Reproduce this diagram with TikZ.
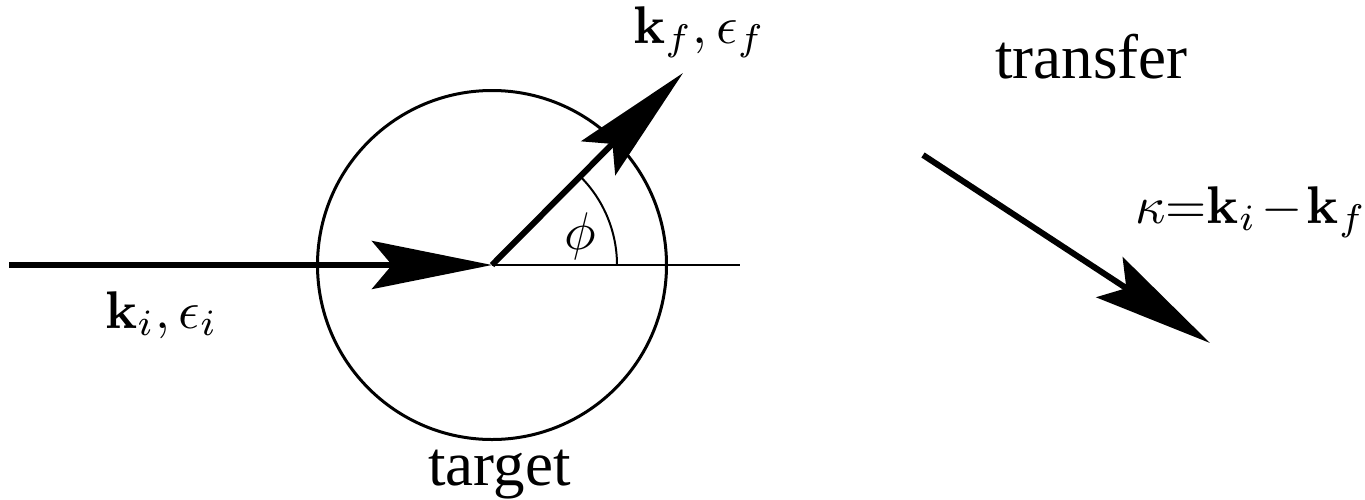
\documentclass[tikz,border=0pt]{standalone}
\usepackage[no-math]{fontspec}
\setmainfont{Liberation Serif}
\usetikzlibrary{arrows.meta}
\newcommand{\scaledmath}[1]{\scalebox{5.3}{$#1$}}
\tikzset{
  thickline/.style={line width=6pt},
  thinline/.style={line width=2pt},
  bigtip/.style={-{Stealth[length=120pt,width=48pt,inset=20pt]}},
  mathlbl/.style={inner sep=0pt, anchor=base west, font=\fontsize{10}{12}\selectfont},
  wordlbl/.style={inner sep=0pt, anchor=base west, font=\rmfamily\fontsize{63}{70}\selectfont},
}
\begin{document}
\begin{tikzpicture}[x=1pt,y=-1pt]
\useasboundingbox (0,0) rectangle (1365,499);
% target circle
\node[circle, draw, line width=3pt, minimum size=349pt, inner sep=0pt] (target) at (492,265) {};
\coordinate (O) at (492,265);
\coordinate (inc) at (9,265);
\coordinate (axis) at (740,265);
\coordinate (kfend) at (683,73);
\coordinate (tstart) at (923,155);
\coordinate (tend) at (1210,343);
% axis and angle
\draw[thinline] (O) -- (axis);
\draw[thinline] ([shift={(125,0)}]O) arc[start angle=0, end angle=-45, radius=125];
% incoming and outgoing
\draw[thickline, bigtip] (inc) -- (O);
\draw[thickline, bigtip] (O) -- (kfend);
% transfer arrow
\draw[thickline, bigtip] (tstart) -- (tend);
% labels
\node[mathlbl, anchor=center] (phi) at (580,236) {\scaledmath{\phi}};
\node[mathlbl] (kilbl) at (105,328) {\scaledmath{\mathbf{k}_i,\epsilon_i}};
\node[mathlbl] (kflbl) at (633,43) {\scaledmath{\mathbf{k}_f,\epsilon_f}};
\node[mathlbl] (kappa) at (1135,223) {\scaledmath{\kappa{=}\mathbf{k}_i\mkern1.5mu{-}\mkern1.5mu\mathbf{k}_f}};
\node[wordlbl] (transfer) at (995,78) {transfer};
\node[wordlbl] (targetlbl) at (428,485) {target};
\end{tikzpicture}
\end{document}
